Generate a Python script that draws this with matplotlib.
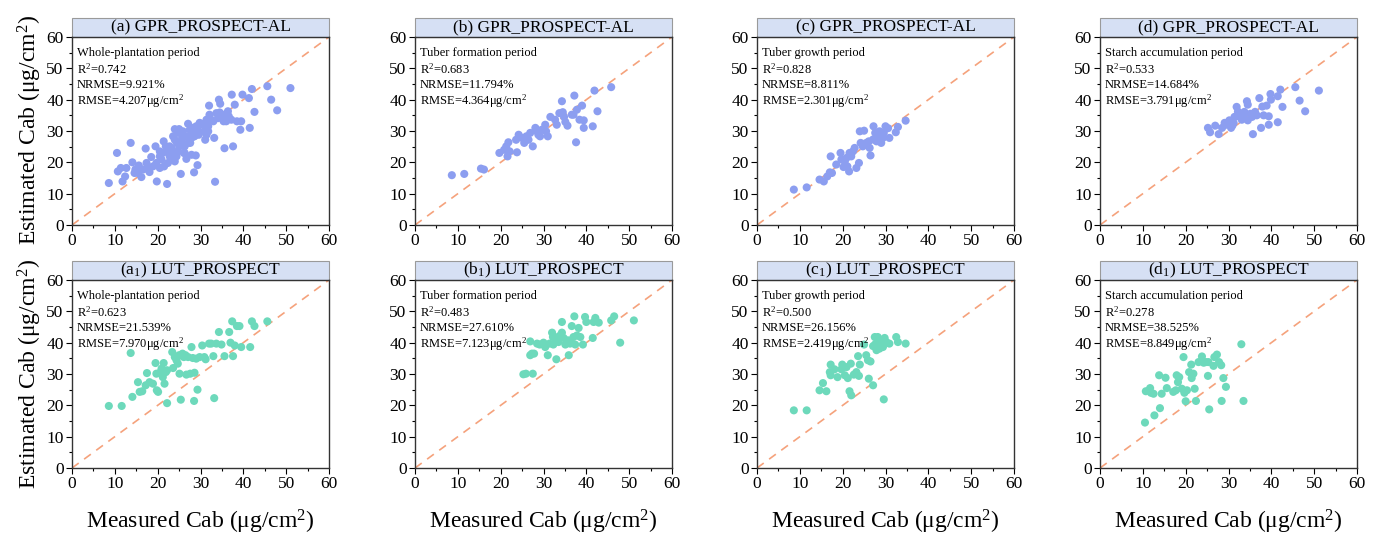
import numpy as np
import matplotlib
matplotlib.use("Agg")
import matplotlib.pyplot as plt
from matplotlib.patches import Rectangle
from matplotlib.ticker import MultipleLocator

plt.rcParams["font.family"] = ["Liberation Serif", "DejaVu Serif"]
plt.rcParams["mathtext.fontset"] = "custom"
plt.rcParams["mathtext.rm"] = "Liberation Serif"
plt.rcParams["mathtext.it"] = "Liberation Serif:italic"

# ---------------------------------------------------------------------------
# data (measured, estimated) in ug/cm2
# ---------------------------------------------------------------------------
gpr_whole_x = [8.6, 10.5, 10.7, 11.4, 11.8, 12.4, 12.7, 13.7, 14.1, 14.6, 15.6, 16.2, 17.2, 17.7,
               18.1, 18.5, 19.5, 19.8, 20.5, 20.9, 21.5, 21.9, 22.2, 22.8, 23.3, 24.0, 24.5, 25.0,
               25.4, 25.7, 26.1, 26.7, 27.1, 27.6, 28.1, 28.5, 28.9, 29.3, 29.6, 30.2, 31.1, 32.0,
               32.5, 33.2, 33.4, 34.1, 34.3, 34.6, 35.4, 35.6, 36.4, 37.2, 37.3, 37.6, 38.0, 38.5,
               39.3, 39.5, 39.8, 41.3, 41.5, 42.0, 42.6, 45.6, 46.5, 47.9, 51.0,
               23.6, 24.0, 24.7, 25.1, 25.5, 25.9, 26.3, 26.7, 27.1, 27.5, 27.9, 28.2, 28.6, 29.0,
               29.4, 29.8, 30.6, 30.9, 31.4, 31.8, 32.1, 33.0, 33.7, 34.9, 35.6, 36.0, 20.5, 21.2,
               22.0, 22.4, 19.7, 18.9, 17.4, 16.6, 15.4, 14.8, 20.5, 21.4, 23.2, 24.0, 24.4, 24.7,
               22.8, 23.3, 27.9, 26.3, 31.4, 31.8, 34.5, 36.6, 24.0]
gpr_whole_y = [13.4, 23.0, 17.1, 18.2, 13.9, 15.5, 18.2, 26.2, 20.0, 16.6, 19.0, 15.3, 24.4, 18.2,
               16.9, 21.7, 25.1, 13.9, 18.2, 20.9, 18.7, 25.1, 13.1, 21.9, 23.5, 30.6, 26.2, 30.6,
               16.3, 27.8, 23.0, 21.1, 32.3, 26.2, 29.6, 16.8, 22.2, 19.1, 28.8, 32.3, 27.2, 38.1,
               33.6, 27.8, 13.8, 34.1, 40.0, 38.7, 33.1, 24.5, 36.3, 33.6, 41.6, 25.1, 38.4, 33.1,
               30.4, 33.1, 41.6, 40.5, 31.0, 43.4, 36.1, 44.3, 40.0, 36.6, 43.7,
               28.3, 27.2, 29.4, 25.1, 26.7, 29.9, 25.1, 28.3, 26.2, 30.4, 27.8, 31.0, 28.3, 31.5,
               30.4, 32.6, 32.0, 29.9, 33.6, 31.5, 35.2, 33.1, 35.7, 35.2, 35.2, 33.1, 21.9, 23.0,
               23.5, 19.8, 19.8, 18.7, 19.8, 17.7, 16.6, 17.7, 23.5, 26.7, 21.9, 20.3, 21.9, 23.5,
               25.1, 24.6, 22.4, 23.0, 28.8, 29.9, 35.9, 34.7, 22.5]

gpr_form_x = [8.6, 11.5, 15.4, 16.1, 19.7, 20.8, 21.3, 21.6, 22.1, 21.8, 23.8, 23.6, 24.2, 25.0,
              25.5, 26.0, 26.5, 26.9, 27.5, 28.1, 28.5, 28.8, 29.2, 29.6, 30.4, 30.6, 31.0, 31.6,
              32.7, 33.1, 33.7, 34.3, 34.5, 34.8, 35.1, 35.6, 36.6, 37.2, 37.0, 37.6, 37.8, 38.4,
              39.0, 39.4, 39.4, 41.5, 41.9, 42.6, 45.8]
gpr_form_y = [15.9, 16.3, 18.0, 17.7, 23.0, 24.0, 25.1, 21.9, 23.5, 26.4, 23.2, 27.2, 28.8, 27.8,
              26.2, 28.3, 27.2, 29.4, 25.1, 31.0, 29.9, 28.8, 28.3, 30.4, 32.0, 29.9, 28.3, 34.5,
              33.6, 32.0, 35.7, 39.5, 36.0, 34.5, 32.9, 31.7, 35.2, 41.3, 35.2, 26.4, 36.8, 33.6,
              38.1, 33.4, 31.0, 31.5, 42.9, 36.3, 44.0]

gpr_growth_x = [8.6, 11.6, 14.6, 15.6, 16.4, 17.0, 17.2, 17.5, 18.5, 19.5, 19.7, 20.2, 20.5, 20.9,
                21.1, 21.5, 21.6, 22.0, 22.4, 22.8, 23.2, 23.8, 24.0, 24.2, 24.7, 25.0, 25.5, 26.1,
                26.3, 26.5, 27.1, 27.2, 27.6, 27.9, 28.2, 28.6, 29.0, 29.4, 29.6, 30.0, 30.6, 30.9,
                32.4, 32.9, 34.7]
gpr_growth_y = [11.3, 12.0, 14.5, 13.9, 15.5, 16.8, 21.9, 16.6, 19.3, 23.0, 20.9, 18.5, 20.3, 21.4,
                18.7, 17.1, 23.0, 21.9, 23.5, 24.6, 18.2, 19.8, 29.9, 26.2, 25.1, 30.1, 26.2, 26.7,
                24.6, 22.2, 27.3, 31.5, 29.4, 26.7, 28.3, 29.9, 26.2, 27.8, 29.4, 31.5, 30.9, 27.8,
                29.6, 31.3, 33.3]

gpr_starch_x = [25.2, 25.7, 26.9, 27.7, 28.5, 29.1, 30.2, 30.6, 31.2, 31.4, 31.9, 32.3, 32.7, 33.1,
                33.5, 33.7, 34.3, 34.5, 34.5, 35.1, 35.5, 35.7, 36.2, 36.6, 37.2, 37.6, 37.9, 38.2,
                38.9, 39.4, 39.4, 39.8, 39.9, 41.5, 41.5, 42.1, 42.6, 45.6, 46.6, 47.9, 51.1, 29.2,
                30.9, 32.2]
gpr_starch_y = [31.0, 29.6, 31.7, 29.0, 31.0, 32.6, 33.4, 31.0, 32.6, 34.5, 37.7, 34.7, 35.5, 33.6,
                34.7, 36.1, 39.5, 38.4, 33.4, 35.5, 34.5, 29.0, 36.1, 35.0, 40.5, 31.0, 37.8, 35.0,
                38.1, 34.7, 32.0, 41.8, 40.0, 32.8, 41.1, 43.2, 37.7, 44.0, 39.7, 36.3, 42.9, 31.9,
                31.7, 36.2]

lut_whole_x = [8.6, 11.6, 13.7, 14.1, 15.4, 15.8, 16.4, 17.2, 17.5, 18.1, 18.9, 19.5, 19.7, 19.8,
               20.1, 20.5, 20.9, 21.2, 21.4, 21.6, 21.9, 22.2, 22.2, 23.4, 23.6, 24.0, 24.4, 24.7,
               25.0, 25.1, 25.4, 25.8, 26.1, 26.5, 26.7, 27.1, 27.6, 27.9, 28.2, 28.5, 28.6, 29.0,
               29.3, 29.8, 30.4, 30.9, 31.2, 32.0, 32.5, 33.0, 33.2, 33.7, 34.3, 34.9, 35.6, 36.7,
               37.0, 37.4, 37.6, 38.0, 38.5, 39.1, 39.5, 41.6, 42.0, 42.6, 45.6]
lut_whole_y = [19.8, 19.8, 36.7, 22.7, 27.4, 24.3, 24.5, 26.4, 30.3, 27.4, 26.9, 33.5, 30.1, 24.8,
               24.3, 30.4, 31.7, 29.0, 33.5, 26.9, 30.6, 31.2, 20.7, 37.0, 31.9, 35.4, 34.4, 33.3,
               36.0, 30.1, 21.8, 36.5, 35.4, 36.0, 29.8, 35.4, 30.1, 38.6, 35.1, 21.4, 30.4, 34.9,
               25.0, 35.4, 39.1, 35.4, 34.7, 39.7, 39.7, 35.7, 22.3, 39.7, 43.4, 39.4, 35.7, 43.4,
               40.0, 46.8, 35.7, 39.1, 45.3, 45.3, 38.6, 38.6, 46.8, 45.3, 46.8]

lut_form_x = [25.3, 25.9, 27.5, 26.9, 26.9, 27.3, 27.8, 28.5, 29.1, 30.0, 30.4, 31.0, 31.4, 32.0,
              32.3, 32.7, 33.0, 33.5, 34.3, 34.3, 34.7, 35.1, 35.5, 35.9, 36.2, 36.6, 37.0, 37.2,
              37.4, 38.2, 38.6, 39.2, 39.7, 40.0, 41.5, 42.1, 41.7, 42.9, 45.8, 46.5, 47.9, 51.1,
              32.2, 33.9, 35.9, 37.8]
lut_form_y = [29.9, 30.1, 30.1, 40.4, 36.0, 36.5, 36.5, 39.7, 39.4, 40.0, 38.6, 36.0, 39.7, 43.2,
              39.4, 41.8, 34.7, 40.2, 46.6, 43.2, 41.5, 39.4, 40.7, 36.0, 39.7, 45.3, 41.8, 48.4,
              39.4, 44.7, 41.8, 39.4, 48.2, 46.6, 41.5, 47.9, 46.6, 46.4, 47.1, 48.4, 40.0, 47.1,
              41.8, 42.3, 40.7, 42.3]

lut_growth_x = [8.6, 11.6, 14.6, 15.4, 16.2, 17.2, 17.0, 17.2, 18.1, 18.8, 19.7, 19.9, 20.5, 20.9,
                21.2, 21.6, 21.9, 22.0, 22.6, 23.2, 23.6, 23.8, 24.0, 25.0, 25.5, 25.9, 26.1, 26.5,
                27.1, 27.1, 27.5, 27.9, 28.2, 28.2, 29.0, 29.4, 29.6, 29.8, 30.2, 30.9, 32.5, 32.9,
                34.7, 28.6, 27.6]
lut_growth_y = [18.4, 18.4, 24.8, 27.1, 24.5, 33.0, 30.6, 29.6, 31.5, 29.0, 31.5, 33.0, 29.6, 32.2,
                28.7, 24.5, 33.3, 23.2, 29.8, 30.6, 35.7, 29.4, 33.0, 39.4, 36.0, 34.4, 28.5, 34.0,
                26.4, 38.9, 41.8, 37.6, 41.8, 39.7, 40.0, 38.6, 21.9, 41.5, 40.2, 39.7, 41.8, 40.2,
                39.7, 38.1, 39.5]

lut_starch_x = [10.5, 10.7, 11.7, 11.9, 12.5, 12.7, 13.8, 14.0, 14.4, 15.3, 15.6, 17.1, 17.7, 17.9,
                18.2, 18.5, 19.1, 19.5, 19.7, 20.0, 20.3, 20.8, 21.3, 21.4, 21.8, 22.1, 22.4, 23.0,
                23.8, 24.2, 24.7, 25.3, 25.2, 25.5, 26.5, 26.7, 27.3, 27.8, 28.3, 28.4, 28.8, 29.4,
                33.0, 33.5]
lut_starch_y = [14.5, 24.5, 25.5, 24.0, 23.7, 16.8, 29.6, 19.1, 23.7, 28.8, 25.5, 24.3, 24.8, 29.6,
                27.4, 29.0, 25.3, 35.4, 24.0, 21.3, 24.8, 30.6, 33.0, 28.7, 30.1, 25.3, 21.4, 33.8,
                35.6, 33.6, 33.8, 33.8, 29.4, 18.7, 32.6, 35.4, 36.2, 33.8, 32.8, 21.4, 28.7, 25.9,
                39.5, 21.4]

panel_titles = ["(a) GPR_PROSPECT-AL", "(b) GPR_PROSPECT-AL", "(c) GPR_PROSPECT-AL",
                "(d) GPR_PROSPECT-AL",
                r"(a$_1$) LUT_PROSPECT", r"(b$_1$) LUT_PROSPECT", r"(c$_1$) LUT_PROSPECT",
                r"(d$_1$) LUT_PROSPECT"]
periods = ["Whole-plantation period", "Tuber formation period", "Tuber growth period",
           "Starch accumulation period"]
r2 = ["0.742", "0.683", "0.828", "0.533", "0.623", "0.483", "0.500", "0.278"]
nrmse = ["9.921", "11.794", "8.811", "14.684", "21.539", "27.610", "26.156", "38.525"]
rmse = ["4.207", "4.364", "2.301", "3.791", "7.970", "7.123", "2.419", "8.849"]

series = [(gpr_whole_x, gpr_whole_y), (gpr_form_x, gpr_form_y),
          (gpr_growth_x, gpr_growth_y), (gpr_starch_x, gpr_starch_y),
          (lut_whole_x, lut_whole_y), (lut_form_x, lut_form_y),
          (lut_growth_x, lut_growth_y), (lut_starch_x, lut_starch_y)]

GPR_COLOR = "#8C9EF0"
LUT_COLOR = "#6DD9BB"
LINE_COLOR = "#F5A27C"
BOX_COLOR = "#D6E0F4"

W, H = 1379, 536
fig = plt.figure(figsize=(W / 100, H / 100), dpi=100)

col_left = [72, 415, 757, 1100]
row_top = [37, 280]
ax_w, ax_h = 257, 188
box_h = 19

for i, (xs, ys) in enumerate(series):
    r, c = divmod(i, 4)
    left = col_left[c] / W
    bottom = (H - row_top[r] - ax_h) / H
    ax = fig.add_axes([left, bottom, ax_w / W, ax_h / H])

    ax.plot([0, 60], [0, 60], color=LINE_COLOR, linestyle=(0, (5, 4)), linewidth=1.2, zorder=1)
    ax.scatter(xs, ys, s=34, color=GPR_COLOR if r == 0 else LUT_COLOR,
               edgecolors="none", zorder=3)

    ax.set_xlim(0, 60)
    ax.set_ylim(0, 60)
    ax.xaxis.set_major_locator(MultipleLocator(10))
    ax.yaxis.set_major_locator(MultipleLocator(10))
    ax.xaxis.set_minor_locator(MultipleLocator(5))
    ax.yaxis.set_minor_locator(MultipleLocator(5))
    ax.tick_params(direction="out", which="major", length=4, width=0.8, labelsize=12.5, pad=2)
    ax.tick_params(direction="out", which="minor", length=2, width=0.8)
    for sp in ax.spines.values():
        sp.set_linewidth(1.0)
        sp.set_color("#333333")

    # title box above the axes
    bh = box_h / ax_h
    ax.add_patch(Rectangle((0, 1), 1, bh, transform=ax.transAxes, clip_on=False,
                           facecolor=BOX_COLOR, edgecolor="#9A9A9A", linewidth=0.8))
    ax.text(0.5, 1 + bh / 2, panel_titles[i], transform=ax.transAxes,
            ha="center", va="center", fontsize=12.5)

    lines = [periods[c], r"R$^2$=" + r2[i], "NRMSE=" + nrmse[i] + "%",
             "RMSE=" + rmse[i] + r"μg/cm$^2$"]
    for k, txt in enumerate(lines):
        ax.text(0.018, 0.915 - k * 0.086, txt, transform=ax.transAxes,
                ha="left", va="center", fontsize=9)

    if r == 1:
        ax.set_xlabel(r"Measured Cab (μg/cm$^2$)", fontsize=17, labelpad=11)

fig.text(30 / W, 1 - 130 / H, r"Estimated Cab (μg/cm$^2$)", rotation=90,
         ha="center", va="center", fontsize=17)
fig.text(30 / W, 1 - 374 / H, r"Estimated Cab (μg/cm$^2$)", rotation=90,
         ha="center", va="center", fontsize=17)

fig.savefig("out.png", dpi=100)
